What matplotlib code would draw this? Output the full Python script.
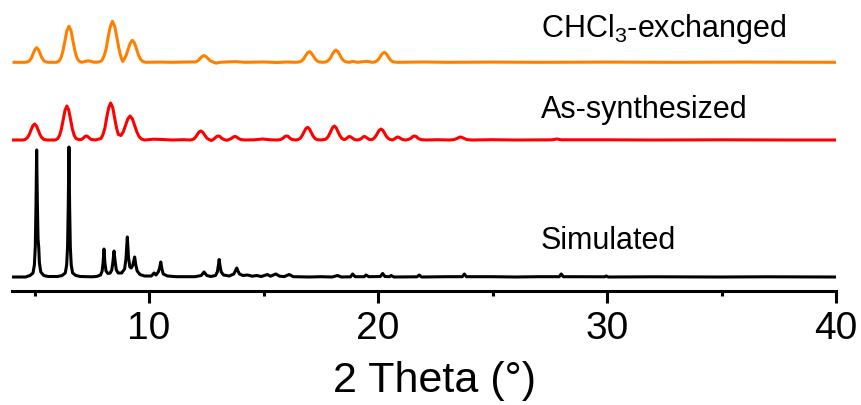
import numpy as np
import matplotlib
matplotlib.use('Agg')
import matplotlib.pyplot as plt

plt.rcParams['font.family'] = ['Liberation Sans', 'DejaVu Sans']
plt.rcParams['mathtext.default'] = 'regular'

# Traced patterns: (2 theta, intensity a.u.), each relative to its own baseline
chcl3 = np.array([
    (4.1, 0), (4.6, 0), (4.72, 0.6), (4.79, 2.0), (4.87, 4.7), (4.94, 8.9), (5.02, 12.8), (5.09, 14.6),
    (5.16, 12.8), (5.24, 8.9), (5.31, 4.7), (5.39, 2.0), (5.46, 0.6), (5.6, 0), (5.95, 0),
    (6.08, 1.4), (6.16, 4.9), (6.24, 11.5), (6.33, 22), (6.41, 31.7), (6.5, 36), (6.59, 31.7),
    (6.67, 22), (6.76, 11.5), (6.84, 4.9), (6.93, 1.4), (7.05, 0), (7.2, 0.8), (7.34, 1.5),
    (7.48, 0.8), (7.6, 0), (7.8, 0.3), (7.93, 1.6), (8.02, 5.5), (8.12, 13.1), (8.21, 25),
    (8.31, 36), (8.4, 41), (8.5, 36), (8.59, 25), (8.69, 13.1), (8.78, 4.5), (8.85, 0.8),
    (8.91, 3.0), (9.0, 7.0), (9.09, 13.4), (9.18, 19.4), (9.27, 22), (9.36, 19.4), (9.45, 13.4),
    (9.54, 7.0), (9.63, 3.0), (9.72, 0.9), (9.85, 0), (10.5, 0.2), (11.0, 0), (11.8, 0.3),
    (12.0, 0.3), (12.08, 0.9), (12.16, 2.1), (12.24, 4.1), (12.32, 5.9), (12.4, 6.7), (12.48, 5.9),
    (12.56, 4.1), (12.64, 2.1), (12.72, 0.9), (12.8, 0.2), (12.92, -0.8), (13.1, 0), (13.75, 0.7),
    (14.2, 0), (15.0, 0.3), (15.6, -0.2), (16.0, 0.3), (16.4, 0), (16.58, 0.4), (16.66, 1.4),
    (16.75, 3.4), (16.83, 6.5), (16.92, 9.4), (17.0, 10.7), (17.08, 9.4), (17.17, 6.5), (17.25, 3.4),
    (17.34, 1.4), (17.42, 0.4), (17.6, 0), (17.74, 0.5), (17.82, 1.7), (17.91, 3.9), (17.99, 7.5),
    (18.08, 10.8), (18.16, 12.3), (18.24, 10.8), (18.33, 7.5), (18.41, 3.9), (18.5, 1.7), (18.58, 0.5),
    (18.75, 0), (18.9, 0.9), (19.1, 0), (19.5, 1.0), (19.75, 0), (19.87, 0.4), (19.95, 1.35),
    (20.03, 3.2), (20.11, 6.1), (20.19, 8.8), (20.27, 10), (20.35, 8.8), (20.43, 6.1), (20.51, 3.2),
    (20.59, 1.35), (20.67, 0.4), (20.85, 0), (22.0, 0.3), (23.0, 0), (25.0, 0.2), (27.0, 0),
    (30.0, 0.2), (33.0, 0), (36.0, 0.2), (40.0, 0),
])

as_synth = np.array([
    (4.0, 0), (4.5, 0), (4.6, 0.6), (4.68, 2.2), (4.76, 5.1), (4.84, 9.8), (4.92, 14.1), (5.0, 16),
    (5.08, 14.1), (5.16, 9.8), (5.24, 5.1), (5.32, 2.2), (5.4, 0.6), (5.55, 0), (5.9, 0),
    (6.01, 1.4), (6.09, 4.6), (6.17, 10.9), (6.25, 20.7), (6.33, 29.9), (6.41, 34), (6.49, 29.9),
    (6.57, 20.7), (6.65, 10.9), (6.73, 4.6), (6.81, 1.4), (6.95, 0.3), (7.05, 0.6), (7.13, 1.9),
    (7.2, 3.5), (7.26, 4), (7.32, 3.5), (7.39, 1.9), (7.47, 0.6), (7.65, 0), (7.9, 1.5),
    (7.98, 5.0), (8.07, 11.8), (8.15, 22.6), (8.24, 32.6), (8.32, 37), (8.41, 32.6), (8.49, 22.6),
    (8.58, 11.8), (8.66, 5.5), (8.77, 4.5), (8.87, 8.0), (8.97, 14.6), (9.07, 21.1), (9.17, 24),
    (9.27, 21.1), (9.37, 14.6), (9.47, 7.8), (9.57, 3.2), (9.67, 1.0), (9.8, 0), (10.2, 0.8),
    (10.6, 0.5), (11.0, 0), (11.5, 0.3), (11.8, 0), (11.88, 0.4), (11.96, 1.2), (12.03, 2.9),
    (12.11, 5.5), (12.18, 7.9), (12.26, 9), (12.34, 7.9), (12.41, 5.5), (12.49, 2.9), (12.56, 1.2),
    (12.64, 0.4), (12.72, -0.5), (12.8, 0.5), (12.87, 1.8), (12.95, 3.5), (13.02, 4), (13.09, 3.5),
    (13.17, 1.8), (13.27, 0.5), (13.4, -0.3), (13.5, 0.5), (13.6, 1.6), (13.68, 3.1), (13.75, 3.5),
    (13.82, 3.1), (13.9, 1.6), (14.0, 0.5), (14.2, 0), (14.6, 0.2), (14.95, 1), (15.3, 0.2),
    (15.6, 0), (15.75, 0.5), (15.85, 1.8), (15.93, 3.5), (16.0, 4), (16.08, 3.5), (16.15, 1.8),
    (16.25, 0.5), (16.4, 0), (16.52, 0.5), (16.6, 1.7), (16.68, 4.1), (16.76, 7.7), (16.84, 11.2),
    (16.92, 12.7), (17.0, 11.2), (17.08, 7.7), (17.16, 4.1), (17.24, 1.7), (17.32, 0.5), (17.5, 0),
    (17.69, 0.6), (17.77, 1.9), (17.85, 4.5), (17.93, 8.5), (18.01, 12.3), (18.09, 14), (18.17, 12.3),
    (18.25, 8.5), (18.33, 4.5), (18.41, 1.9), (18.49, 0.6), (18.55, 0.5), (18.64, 1.8), (18.7, 3.1),
    (18.75, 3.5), (18.81, 3.1), (18.88, 1.8), (18.97, 0.5), (19.1, 0), (19.2, 0.5), (19.29, 1.8),
    (19.35, 3.1), (19.4, 3.5), (19.46, 3.1), (19.53, 1.8), (19.62, 0.5), (19.72, 0.3), (19.81, 1.5),
    (19.89, 3.5), (19.97, 6.7), (20.05, 9.7), (20.13, 11), (20.21, 9.7), (20.29, 6.7), (20.37, 3.5),
    (20.45, 1.5), (20.53, 0.5), (20.63, 0), (20.66, 0.4), (20.75, 1.5), (20.81, 2.6), (20.86, 3),
    (20.92, 2.6), (20.99, 1.5), (21.08, 0.4), (21.2, 0), (21.3, 0.4), (21.42, 1.5), (21.52, 3.5),
    (21.59, 4), (21.66, 3.5), (21.76, 1.5), (21.88, 0.4), (22.1, 0), (22.6, 0.3), (23.1, 0),
    (23.3, 0.3), (23.45, 1.5), (23.55, 2.7), (23.6, 3), (23.66, 2.7), (23.76, 1.5), (23.9, 0.3),
    (24.1, 0), (25.0, 0.3), (26.0, 0), (27.6, 0.2), (27.8, 1), (28.0, 0.2), (30.0, 0.2), (32.0, 0),
    (35.0, 0.2), (38.0, 0), (40.0, 0),
])

simulated = np.array([
    (4.0, 0), (4.6, 0), (4.8, 1.5), (4.93, 4), (4.99, 12), (5.03, 30), (5.06, 70), (5.09, 127),
    (5.12, 75), (5.15, 38), (5.18, 30), (5.21, 14), (5.27, 5), (5.4, 1.5), (5.6, 0.5), (6.0, 0.5),
    (6.2, 1.5), (6.34, 4), (6.4, 12), (6.44, 30), (6.47, 70), (6.5, 130), (6.53, 70), (6.56, 30),
    (6.6, 12), (6.66, 4), (6.8, 1.5), (7.0, 0.5), (7.5, 0.2), (7.7, 0.5), (7.88, 2), (7.95, 6),
    (7.99, 14), (8.03, 28), (8.07, 14), (8.12, 6), (8.2, 3.5), (8.3, 4), (8.37, 7), (8.42, 15),
    (8.47, 26), (8.52, 15), (8.57, 7), (8.65, 4), (8.8, 4), (8.93, 8), (8.99, 18), (9.05, 40),
    (9.1, 20), (9.16, 10), (9.22, 9), (9.29, 12), (9.37, 20), (9.42, 12), (9.48, 6), (9.6, 2.5),
    (9.8, 1), (10.1, 1), (10.22, 4), (10.3, 2), (10.4, 5), (10.46, 9), (10.51, 15), (10.56, 8),
    (10.62, 3), (10.8, 1), (11.2, 0.3), (12.0, 0.3), (12.28, 1.5), (12.35, 3.5), (12.4, 5),
    (12.45, 3.5), (12.52, 1.5), (12.7, 0.5), (12.9, 1.5), (12.98, 5), (13.03, 12), (13.06, 17.5),
    (13.1, 11), (13.15, 5), (13.25, 2), (13.5, 1), (13.7, 3), (13.79, 7), (13.83, 9), (13.88, 6),
    (13.95, 3), (14.1, 1.5), (14.3, 2), (14.5, 0.8), (14.7, 1.5), (14.9, 0.5), (15.17, 2.5),
    (15.3, 0.8), (15.54, 3), (15.7, 0.8), (15.9, 0.4), (16.12, 2.5), (16.3, 0.3), (17.0, 0),
    (17.5, 0.3), (18.0, 0), (18.23, 1.5), (18.4, 0), (18.8, 0.2), (18.89, 3), (19.0, 0.3),
    (19.4, 0.3), (19.47, 2), (19.6, 0.3), (20.1, 0.5), (20.2, 3.5), (20.3, 0.5), (20.5, 0.3),
    (20.57, 1.5), (20.7, 0), (21.7, 0.2), (21.8, 2), (21.9, 0), (23.0, 0.3), (23.68, 0.3),
    (23.77, 3), (23.86, 0.3), (25.0, 0.3), (26.0, 0), (27.0, 0.3), (27.91, 0.3), (28.0, 3),
    (28.09, 0.3), (29.0, 0.2), (29.9, 0.2), (29.97, 1), (30.05, 0), (32.0, 0.2), (35.0, 0),
    (37.0, 0.2), (40.0, 0),
])

labels = ['CHCl$_3$-exchanged', 'As-synthesized', 'Simulated']
colors = ['#FF8000', '#FF0000', '#000000']

fig = plt.figure(figsize=(8.61, 4.05), dpi=100)
ax = fig.add_axes([11.7 / 861, 114 / 405, (836 - 11.7) / 861, 291 / 405])

offsets = [214.7, 137, 0]
label_y = [240.3, 158.7, 28]
for data, off, col, lab, ly in zip([chcl3, as_synth, simulated], offsets, colors, labels, label_y):
    ax.plot(data[:, 0], data[:, 1] + off, color=col, linewidth=2.2, solid_joinstyle='round')
    ax.text(27.1, ly, lab, fontsize=22, va='baseline', ha='left')

ax.set_xlim(4, 40)
ax.set_ylim(-14, 277)
ax.set_xticks([10, 20, 30, 40])
ax.set_xticks([5, 15, 25, 35], minor=True)
ax.set_yticks([])
for s in ['left', 'right', 'top']:
    ax.spines[s].set_visible(False)
ax.spines['bottom'].set_linewidth(2.2)
ax.tick_params(axis='x', which='major', length=8.6, width=2.2, labelsize=28, pad=5.5)
ax.tick_params(axis='x', which='minor', length=3.6, width=2.2)
ax.set_xlabel('2 Theta (°)', fontsize=31)
ax.xaxis.set_label_coords(0.5135, -0.309)
ax.xaxis.label.set_va('center')
ax.patch.set_visible(False)

fig.savefig('out.png', dpi=100)
